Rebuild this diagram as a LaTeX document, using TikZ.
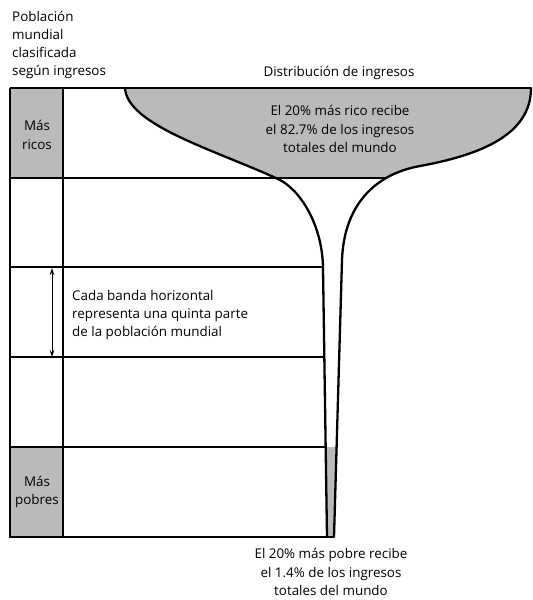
\documentclass[tikz,border=0pt]{standalone}
\usepackage{fontspec}
\setmainfont{Open Sans}
\usetikzlibrary{arrows.meta}
\begin{document}
\begin{tikzpicture}[x=1pt,y=-1pt,
  txt/.style={font=\fontsize{13.4}{18.2}\selectfont, inner sep=0pt, align=center},
  band/.style={line width=1.3pt},
  curve/.style={line width=2.3pt},
  shade/.style={fill=black!27},
  funnel/.style={insert path={(125,88) .. controls (127,125) and (215,150) .. (278,179) .. controls (300,189) and (322.5,225) .. (323,268) -- (327,537) -- (334,537) -- (342,260) .. controls (344,205) and (375,174) .. (420,166) .. controls (480,155) and (531,135) .. (531,88) -- cycle}},
  leftc/.style={insert path={(125,88) .. controls (127,125) and (215,150) .. (278,179) .. controls (300,189) and (322.5,225) .. (323,268) -- (327,537)}},
  rightc/.style={insert path={(334,537) -- (342,260) .. controls (344,205) and (375,174) .. (420,166) .. controls (480,155) and (531,135) .. (531,88)}}]
\useasboundingbox (0,0) rectangle (533,600);
% shading
\begin{scope}
  \clip (0,88) rectangle (533,178);
  \fill[shade, funnel];
\end{scope}
\begin{scope}
  \clip (0,447) rectangle (533,537);
  \fill[shade, funnel];
\end{scope}
\fill[shade] (10,88) rectangle (63,178);
\fill[shade] (10,447) rectangle (63,537);
% frame and bands
\coordinate (tl) at (10,88);
\coordinate (tr) at (531,88);
\coordinate (bl) at (10,537);
\coordinate (br) at (334,537);
\draw[band] (tl) -- (tr);
\draw[band] (tl) -- (bl) -- (br);
\draw[band] (63,88) -- (63,537);
\draw[band] (10,178) -- (386,178);
\draw[band] (10,267) -- (323,267);
\draw[band] (10,357) -- (325,357);
\draw[band] (10,447) -- (326,447);
% curves
\draw[curve, line cap=round, leftc];
\draw[curve, line cap=round, rightc];
% arrow
\coordinate (atop) at (52,268);
\coordinate (abot) at (52,357);
\draw[line width=0.9pt, {Stealth[length=7pt,width=4.5pt]}-{Stealth[length=7pt,width=4.5pt]}] (atop) -- (abot);
% texts
\node[txt, align=left, anchor=west] (title) at (12,45) {Población\\mundial\\clasificada\\según ingresos};
\node[txt] (dist) at (339,73) {Distribución de ingresos};
\node[txt] (rich) at (340,129) {El 20\% más rico recibe\\el 82.7\% de los ingresos\\totales del mundo};
\node[txt] (ricos) at (37,135) {Más\\ricos};
\node[txt] (pobres) at (37,492) {Más\\pobres};
\node[txt, align=left, anchor=west] (cada) at (72,315) {Cada banda horizontal\\representa una quinta parte\\de la población mundial};
\node[txt] (poor) at (331,572) {El 20\% más pobre recibe\\el 1.4\% de los ingresos\\totales del mundo};
\end{tikzpicture}
\end{document}
